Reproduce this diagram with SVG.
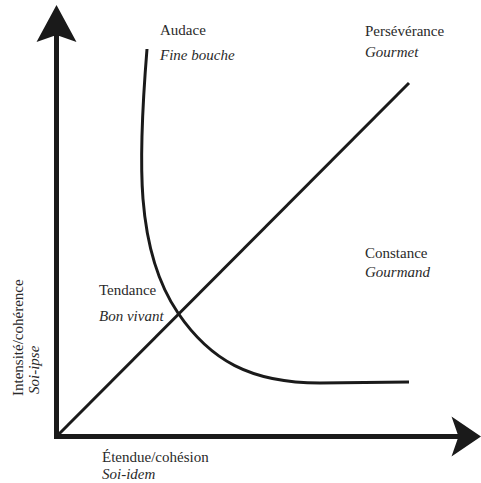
<svg xmlns="http://www.w3.org/2000/svg" width="481" height="483" viewBox="0 0 481 483">
<style>
.t{font-family:"Liberation Serif","Times New Roman",serif;font-size:15px;fill:#2a2a2a}
.i{font-style:italic}
.ax{stroke:#1a1a1a;stroke-width:5;fill:none}
.ln{stroke:#1a1a1a;stroke-width:3;fill:none;stroke-linecap:butt}
.ah{fill:#1a1a1a}
</style>
<rect width="481" height="483" fill="#ffffff"/>
<g id="connectors">
<line class="ax" x1="56.5" y1="438.5" x2="56.5" y2="34"/>
<line class="ax" x1="54" y1="436.5" x2="460" y2="436.5"/>
<path class="ah" d="M56.5,5 L76.5,42 L56.5,35 L36.5,42 Z"/>
<path class="ah" d="M481,436.5 L451.5,456.5 L458.5,436.5 L451.5,416.5 Z"/>
<line class="ln" x1="57" y1="436" x2="409" y2="83"/>
<path class="ln" d="M147,49 C138,160 135,250 178,313 C210,360 250,383 320,383 L409,382"/>
</g>
<g id="audace"><text class="t" x="160" y="35">Audace</text><text class="t i" x="160" y="60">Fine bouche</text></g>
<g id="perseverance"><text class="t" x="365" y="36">Persévérance</text><text class="t i" x="365" y="57">Gourmet</text></g>
<g id="constance"><text class="t" x="365" y="258">Constance</text><text class="t i" x="365" y="277">Gourmand</text></g>
<g id="tendance"><text class="t" x="99" y="295">Tendance</text><text class="t i" x="99" y="321">Bon vivant</text></g>
<g id="x-label"><text class="t" x="102" y="461.5">Étendue/cohésion</text><text class="t i" x="102" y="479">Soi-idem</text></g>
<g id="y-label"><text class="t" transform="translate(23,396) rotate(-90)">Intensité/cohérence</text><text class="t i" transform="translate(39,394) rotate(-90)">Soi-ipse</text></g>
</svg>
